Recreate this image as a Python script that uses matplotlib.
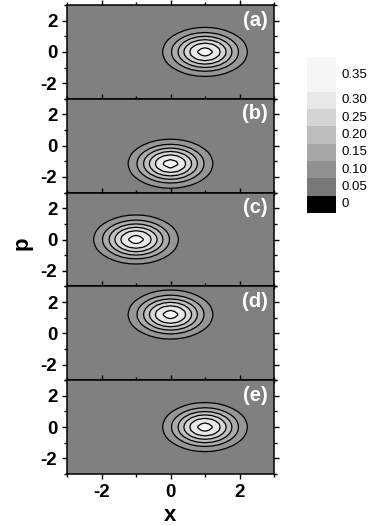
import numpy as np
import matplotlib
matplotlib.use("Agg")
import matplotlib.pyplot as plt
from matplotlib.ticker import MultipleLocator

plt.rcParams['font.family'] = ['Liberation Sans', 'DejaVu Sans']

# ---- data ----
panel_labels = ['(a)', '(b)', '(c)', '(d)', '(e)']
center_x = [1.0, 0.0, -1.0, 0.0, 1.0]
center_p = [0.0, -1.15, 0.0, 1.2, 0.0]
peak = 0.318
width_x = 0.9
width_p = 1.15
levels = [0.0, 0.05, 0.10, 0.15, 0.20, 0.25, 0.30, 0.35]
band_greys = [0.50, 0.59, 0.67, 0.75, 0.84, 0.91, 0.965]
cbar_labels = ['0', '0.05', '0.10', '0.15', '0.20', '0.25', '0.30', '0.35']
cbar_greys = [0.0, 0.47, 0.57, 0.66, 0.74, 0.83, 0.91, 0.965]
cbar_heights = [1, 1, 1, 1, 1, 1, 1, 2]

grid = np.linspace(-3, 3, 31)
X, P = np.meshgrid(grid, grid)

fig = plt.figure(figsize=(3.71, 5.26), dpi=100)
left, right = 67 / 371, 274 / 371
top, bottom = 1 - 5 / 526, 1 - 474 / 526
h = (top - bottom) / 5

band_colors = [(g, g, g) for g in band_greys]
axes = []
for i in range(5):
    ax = fig.add_axes([left, top - (i + 1) * h, right - left, h])
    W = peak * np.exp(-((X - center_x[i]) ** 2) / width_x ** 2
                      - ((P - center_p[i]) ** 2) / width_p ** 2)
    ax.contourf(X, P, W, levels=levels, colors=band_colors, extend='neither')
    ax.contour(X, P, W, levels=levels[1:-1], colors='black', linewidths=0.9)
    ax.set_facecolor((0.5, 0.5, 0.5))
    ax.set_xlim(-3, 3)
    ax.set_ylim(-3, 3)
    ax.xaxis.set_major_locator(MultipleLocator(2))
    ax.xaxis.set_minor_locator(MultipleLocator(1))
    ax.yaxis.set_major_locator(MultipleLocator(2))
    ax.yaxis.set_minor_locator(MultipleLocator(1))
    ax.tick_params(which='both', direction='out', top=True, right=True,
                   width=1.0, labelsize=13.5)
    ax.tick_params(which='major', length=3.5)
    ax.tick_params(which='minor', length=2.5)
    ax.set_yticks([-2, 0, 2])
    ax.set_yticklabels(['-2', '0', '2'], fontweight='bold', fontsize=13.5)
    if i < 4:
        ax.tick_params(labelbottom=False)
    else:
        ax.set_xticks([-2, 0, 2])
        ax.set_xticklabels(['-2', '0', '2'], fontweight='bold', fontsize=13.5)
        ax.set_xlabel('x', fontsize=16, fontweight='bold', labelpad=3)
    for s in ax.spines.values():
        s.set_linewidth(1.1)
    ax.text(0.968, 0.84, panel_labels[i], transform=ax.transAxes, ha='right',
            va='center', color='white', fontsize=14.5, fontweight='bold')
    axes.append(ax)

fig.text(22 / 371, 1 - 243 / 526, 'p', rotation=90, ha='center', va='center',
         fontsize=16, fontweight='bold')

# colour scale
cax = fig.add_axes([307 / 371, 1 - 213 / 526, 29 / 371, 156 / 526])
bottoms = np.concatenate([[0], np.cumsum(cbar_heights)[:-1]])
cax.bar(0, cbar_heights, bottom=bottoms, width=1.0,
        color=[(g, g, g) for g in cbar_greys], align='edge')
cax.set_xlim(0, 1)
cax.set_ylim(0, sum(cbar_heights))
cax.axis('off')
for b, hh, lab in zip(bottoms, cbar_heights, cbar_labels):
    yc = b + 0.5 if hh == 1 else b + 0.95
    cax.text(1.18, yc, lab, transform=cax.transData, ha='left', va='center',
             fontsize=9.5)

fig.savefig('out.png', dpi=100)
